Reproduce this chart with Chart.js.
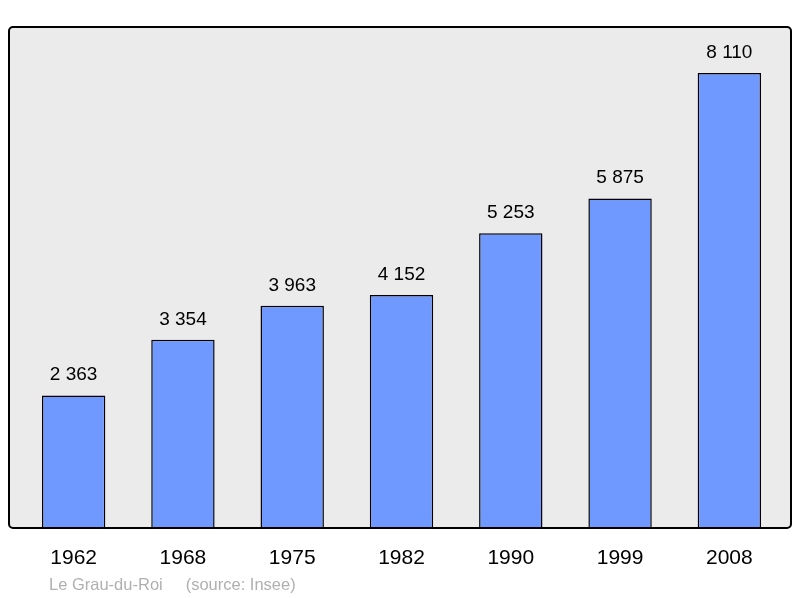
<!DOCTYPE html>
<html>
<head>
<meta charset="utf-8">
<script src="https://cdn.jsdelivr.net/npm/chart.js@4"></script>
<style>
  html, body { margin: 0; padding: 0; background: #fff; }
  #wrap { width: 800px; height: 598px; }
</style>
</head>
<body>
<div id="wrap"><canvas id="popChart"></canvas></div>
<script>
const years = ['1962', '1968', '1975', '1982', '1990', '1999', '2008'];
const population = [2363, 3354, 3963, 4152, 5253, 5875, 8110];
const townName = 'Le Grau-du-Roi';
const sourceNote = '(source: Insee)';

function fmt(n) {
  return String(n).replace(/\B(?=(\d{3})+(?!\d))/g, ' ');
}

const framePlugin = {
  id: 'frame',
  beforeDatasetsDraw(chart) {
    const { ctx, chartArea: a } = chart;
    ctx.save();
    ctx.beginPath();
    ctx.roundRect(9, a.top, 782, a.bottom - a.top, 4);
    ctx.fillStyle = '#ebebeb';
    ctx.fill();
    ctx.restore();
  },
  afterDatasetsDraw(chart) {
    const { ctx, chartArea: a } = chart;
    ctx.save();
    ctx.beginPath();
    ctx.roundRect(9, a.top, 782, a.bottom - a.top, 4);
    ctx.lineWidth = 2;
    ctx.strokeStyle = '#000';
    ctx.stroke();

    const meta = chart.getDatasetMeta(0);
    ctx.fillStyle = '#000';
    ctx.textAlign = 'center';
    ctx.font = '19px "Liberation Sans", Arial, sans-serif';
    meta.data.forEach((bar, i) => {
      ctx.fillText(fmt(population[i]), bar.x, bar.y - 15);
    });
    ctx.font = '21px "Liberation Sans", Arial, sans-serif';
    meta.data.forEach((bar, i) => {
      ctx.fillText(years[i], bar.x, a.bottom + 36);
    });
    ctx.fillStyle = '#b0b0b0';
    ctx.textAlign = 'left';
    ctx.font = '16.5px "Liberation Sans", Arial, sans-serif';
    ctx.fillText(townName + '     ' + sourceNote, 49, 590);
    ctx.restore();
  }
};

new Chart(document.getElementById('popChart'), {
  type: 'bar',
  data: {
    labels: years,
    datasets: [{
      data: population,
      backgroundColor: '#7099ff',
      borderColor: '#000',
      borderWidth: 1.5,
      borderSkipped: 'bottom',
      barPercentage: 0.58,
      categoryPercentage: 1
    }]
  },
  options: {
    responsive: true,
    maintainAspectRatio: false,
    animation: false,
    layout: { padding: { left: 19, right: 16, top: 27, bottom: 70 } },
    plugins: { legend: { display: false }, tooltip: { enabled: false } },
    scales: {
      x: { display: false },
      y: { display: false, min: 0, max: 8930 }
    }
  },
  plugins: [framePlugin]
});
</script>
</body>
</html>
